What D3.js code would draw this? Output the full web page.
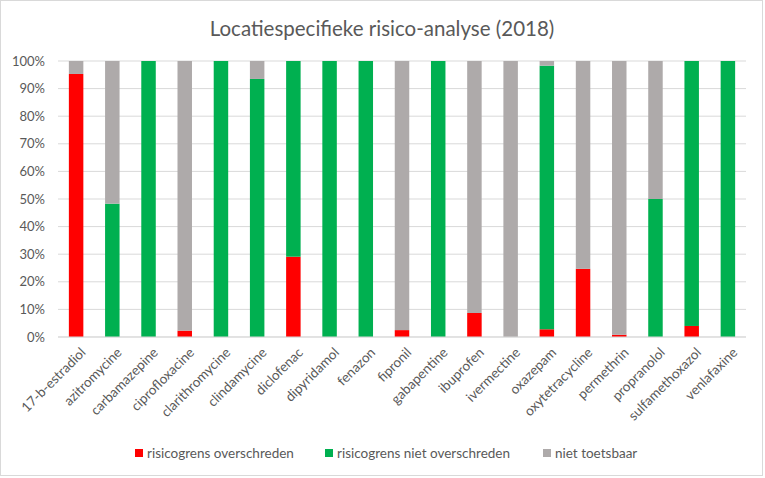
<!DOCTYPE html>
<html><head><meta charset="utf-8">
<script src="https://cdn.jsdelivr.net/npm/d3@7"></script>
<style>body{margin:0;background:#fff;} svg{display:block;font-family:Lato,"Open Sans",sans-serif;}</style>
</head><body>
<svg id="c" width="765" height="478"></svg>
<script>
const categories = ["17-b-estradiol","azitromycine","carbamazepine","ciprofloxacine","clarithromycine","clindamycine","diclofenac","dipyridamol","fenazon","fipronil","gabapentine","ibuprofen","ivermectine","oxazepam","oxytetracycline","permethrin","propranolol","sulfamethoxazol","venlafaxine"];
const overschreden     = [95.3, 0,    0,   2.3, 0,   0,    29.1, 0,   0,   2.5, 0,   8.7, 0,   2.8, 24.7, 0.8, 0,  4,  0];
const nietOverschreden = [0,    48.3, 100, 0,   100, 93.5, 70.9, 100, 100, 0,   100, 0,   0,   95.5, 0,   0,   50, 96, 100];
const nietToetsbaar    = [4.7,  51.7, 0,   97.7, 0,  6.5,  0,    0,   0,   97.5, 0,  91.3, 100, 1.7, 75.3, 99.2, 50, 0,  0];
const seriesNames = ["risicogrens overschreden","risicogrens niet overschreden","niet toetsbaar"];
const seriesColors = ["#FF0000","#00B050","#AEAAAA"];
const yTicks = [0,10,20,30,40,50,60,70,80,90,100];
const title = "Locatiespecifieke risico-analyse (2018)";

const svg = d3.select("#c");
const W = 765, H = 478;
const m = {l:58, r:19, t:61, b:141};

svg.append("rect").attr("x",0.5).attr("y",0.5).attr("width",W-3).attr("height",H-3)
  .attr("fill","#fff").attr("stroke","#d9d9d9");

const x = d3.scaleBand().domain(categories).range([m.l, W-m.r]).paddingInner(0.6).paddingOuter(0.3);
const y = d3.scaleLinear().domain([0,100]).range([H-m.b, m.t]);

// gridlines
svg.append("g").selectAll("line").data(yTicks).join("line")
  .attr("x1", m.l).attr("x2", W-m.r)
  .attr("y1", d=>y(d)).attr("y2", d=>y(d))
  .attr("stroke","#d9d9d9").attr("stroke-width",1);

// y axis labels
const yAxis = d3.axisLeft(y).tickValues(yTicks).tickFormat(d=>d+"%").tickSize(0).tickPadding(0);
const gy = svg.append("g").attr("transform",`translate(${m.l-13},0)`).call(yAxis);
gy.select(".domain").remove();
gy.selectAll("text").attr("fill","#595959").style("font-size","13px").style("font-family","Lato,'Open Sans',sans-serif");

// stacked data
const rows = categories.map((c,i)=>({cat:c, a:overschreden[i], b:nietOverschreden[i], c:nietToetsbaar[i]}));
const stack = d3.stack().keys(["a","b","c"]);
const layers = stack(rows);
svg.append("g").selectAll("g").data(layers).join("g")
  .attr("fill",(d,i)=>seriesColors[i])
  .selectAll("rect").data(d=>d.filter(p=>p[1]-p[0]>0)).join("rect")
  .attr("x", d=>x(d.data.cat))
  .attr("width", x.bandwidth())
  .attr("y", d=>y(d[1]))
  .attr("height", d=>y(d[0])-y(d[1]));

// x axis line
svg.append("line").attr("x1",m.l).attr("x2",W-m.r).attr("y1",y(0)).attr("y2",y(0)).attr("stroke","#d9d9d9");

// x labels
svg.append("g").selectAll("text").data(categories).join("text")
  .attr("transform", d=>`translate(${x(d)+x.bandwidth()/2+7},${y(0)+13}) rotate(-45)`)
  .attr("text-anchor","end")
  .attr("dy","0.35em")
  .attr("fill","#595959")
  .style("font-size","13.5px")
  .text(d=>d);

// title
svg.append("text").attr("x",382).attr("y",36).attr("text-anchor","middle")
  .attr("fill","#595959").style("font-size","20.5px").text(title);

// legend
const legX = [135, 325, 543];
const lg = svg.append("g");
seriesNames.forEach((n,i)=>{
  lg.append("rect").attr("x",legX[i]).attr("y",449).attr("width",8).attr("height",8).attr("fill",seriesColors[i]);
  lg.append("text").attr("x",legX[i]+12).attr("y",453).attr("dy","0.35em")
    .attr("fill","#595959").style("font-size","13.5px").text(n);
});
</script>
</body></html>
